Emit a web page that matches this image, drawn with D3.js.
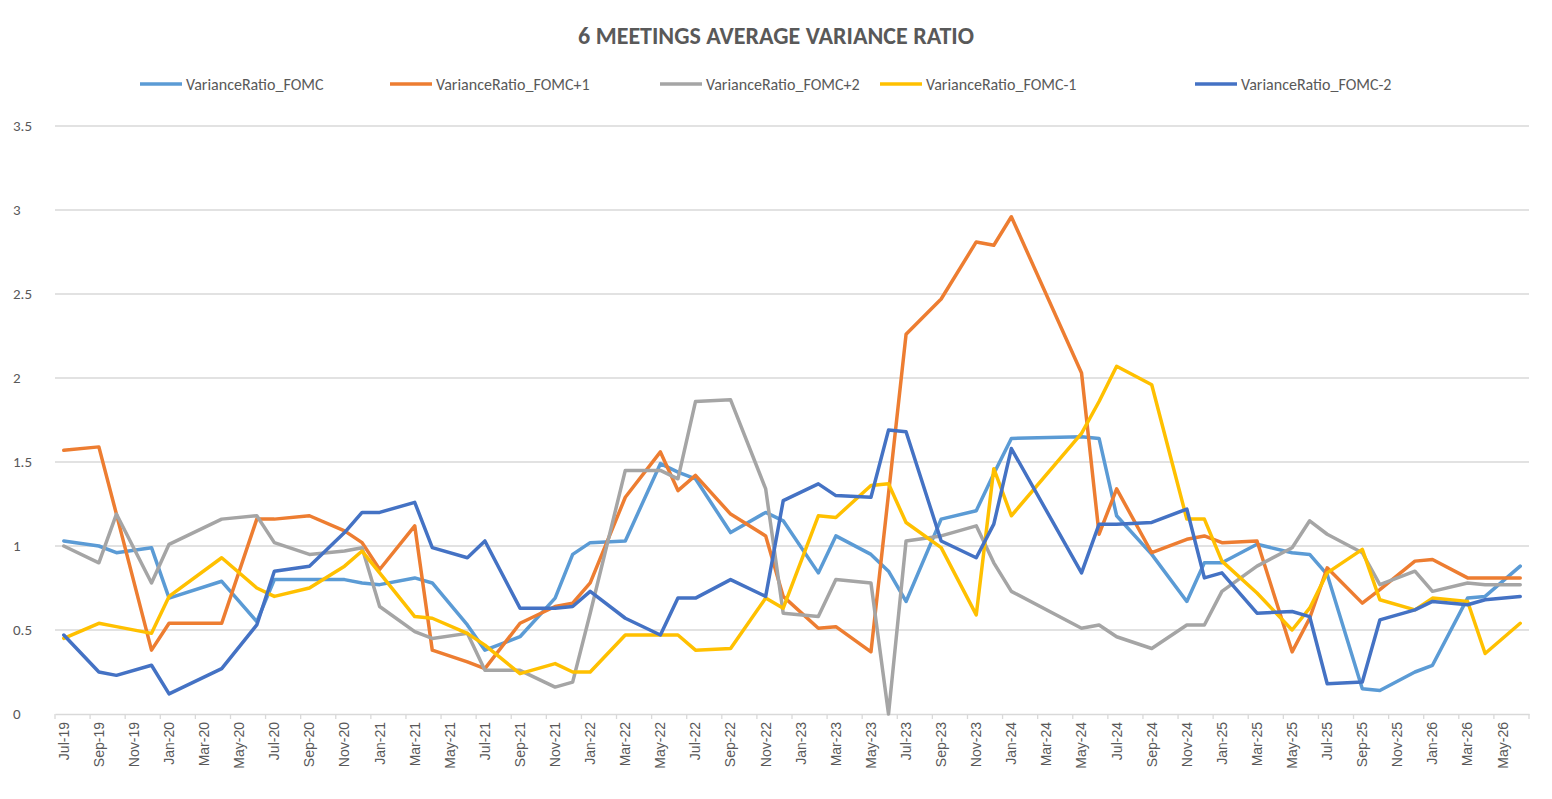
<!DOCTYPE html>
<html>
<head>
<meta charset="utf-8">
<script src="https://d3js.org/d3.v7.min.js"></script>
<style>
  body { margin: 0; background: #fff; font-family: Calibri, Carlito, "Open Sans", sans-serif; }
  .tick text { fill: #595959; font-size: 14px; }
</style>
</head>
<body>
<div id="chart"></div>
<script>
// meeting months (x positions)
var meetings = ["Jul-19","Sep-19","Oct-19","Dec-19","Jan-20","Apr-20","Jun-20","Jul-20","Sep-20","Nov-20","Dec-20",
  "Jan-21","Mar-21","Apr-21","Jun-21","Jul-21","Sep-21","Nov-21","Dec-21","Jan-22","Mar-22","May-22","Jun-22","Jul-22",
  "Sep-22","Nov-22","Dec-22","Feb-23","Mar-23","May-23","Jun-23","Jul-23","Sep-23","Nov-23","Dec-23","Jan-24","May-24",
  "Jun-24","Jul-24","Sep-24","Nov-24","Dec-24","Jan-25","Mar-25","May-25","Jun-25","Jul-25","Sep-25","Oct-25","Dec-25",
  "Jan-26","Mar-26","Apr-26","Jun-26"];

var fomc   = [1.03,1.00,0.96,0.99,0.69,0.79,0.55,0.80,0.80,0.80,0.78,0.77,0.81,0.78,0.53,0.38,0.46,0.69,0.95,1.02,1.03,1.49,1.44,1.40,
  1.08,1.20,1.15,0.84,1.06,0.95,0.85,0.67,1.16,1.21,1.43,1.64,1.65,1.64,1.18,0.95,0.67,0.90,0.90,1.01,0.96,0.95,0.83,0.15,0.14,0.25,
  0.29,0.69,0.70,0.88];
var fomcP1 = [1.57,1.59,1.19,0.38,0.54,0.54,1.16,1.16,1.18,1.09,1.02,0.86,1.12,0.38,0.31,0.27,0.54,0.64,0.66,0.78,1.29,1.56,1.33,1.42,
  1.19,1.06,0.70,0.51,0.52,0.37,1.31,2.26,2.47,2.81,2.79,2.96,2.03,1.07,1.34,0.96,1.04,1.06,1.02,1.03,0.37,0.57,0.87,0.66,0.74,0.91,
  0.92,0.81,0.81,0.81];
var fomcP2 = [1.00,0.90,1.19,0.78,1.01,1.16,1.18,1.02,0.95,0.97,0.99,0.64,0.49,0.45,0.48,0.26,0.26,0.16,0.19,0.60,1.45,1.45,1.40,1.86,
  1.87,1.34,0.60,0.58,0.80,0.78,0.00,1.03,1.06,1.12,0.90,0.73,0.51,0.53,0.46,0.39,0.53,0.53,0.73,0.88,0.99,1.15,1.07,0.96,0.77,0.85,
  0.73,0.78,0.77,0.77];
var fomcM1 = [0.45,0.54,0.52,0.48,0.70,0.93,0.75,0.70,0.75,0.88,0.97,0.84,0.58,0.57,0.48,0.41,0.24,0.30,0.25,0.25,0.47,0.47,0.47,0.38,
  0.39,0.69,0.63,1.18,1.17,1.36,1.37,1.14,0.99,0.59,1.46,1.18,1.67,1.86,2.07,1.96,1.16,1.16,0.91,0.72,0.50,0.63,0.84,0.98,0.68,0.62,
  0.69,0.67,0.36,0.54];
var fomcM2 = [0.47,0.25,0.23,0.29,0.12,0.27,0.53,0.85,0.88,1.08,1.20,1.20,1.26,0.99,0.93,1.03,0.63,0.63,0.64,0.73,0.57,0.47,0.69,0.69,
  0.80,0.70,1.27,1.37,1.30,1.29,1.69,1.68,1.03,0.93,1.13,1.58,0.84,1.13,1.13,1.14,1.22,0.81,0.84,0.60,0.61,0.58,0.18,0.19,0.56,0.62,
  0.67,0.65,0.68,0.70];

var seriesNames = ["VarianceRatio_FOMC","VarianceRatio_FOMC+1","VarianceRatio_FOMC+2","VarianceRatio_FOMC-1","VarianceRatio_FOMC-2"];
var seriesVals = [fomc, fomcP1, fomcP2, fomcM1, fomcM2];
var colors = ["#5B9BD5","#ED7D31","#A5A5A5","#FFC000","#4472C4"];
var yTicks = [0,0.5,1,1.5,2,2.5,3,3.5];

var W = 1552, H = 799;
var pLeft = 55, pRight = 1529, pTop = 126, pBottom = 714;

// month categories Jul-19 .. Jun-26
var fmt = d3.timeFormat("%b-%y");
var months = d3.timeMonths(new Date(2019, 6, 1), new Date(2026, 6, 1)).map(fmt);

var svg = d3.select("#chart").append("svg").attr("width", W).attr("height", H);

var x = d3.scaleBand().domain(months).range([pLeft, pRight]);
var y = d3.scaleLinear().domain([0, 3.5]).range([pBottom, pTop]);

svg.append("text").attr("x", W / 2).attr("y", 44).attr("text-anchor", "middle")
  .attr("font-size", 24).attr("font-weight", "bold").attr("fill", "#595959")
  .text("6 MEETINGS AVERAGE VARIANCE RATIO");

// gridlines + y labels
svg.selectAll("line.grid").data(yTicks.slice(1)).enter().append("line")
  .attr("x1", pLeft).attr("x2", pRight)
  .attr("y1", function(d) { return y(d); }).attr("y2", function(d) { return y(d); })
  .attr("stroke", "#d9d9d9").attr("stroke-width", 1.3);
svg.selectAll("text.ylab").data(yTicks).enter().append("text")
  .attr("x", 13).attr("y", function(d) { return y(d) + 5; })
  .attr("font-size", 15).attr("fill", "#595959")
  .text(function(d) { return d; });

// x axis
var xAxis = d3.axisBottom(x)
  .tickValues(months.filter(function(d, i) { return i % 2 === 0; }))
  .tickSize(0).tickPadding(6);
var gx = svg.append("g").attr("transform", "translate(0," + pBottom + ")").call(xAxis);
gx.select(".domain").attr("stroke", "#d9d9d9").attr("stroke-width", 1.3);
gx.selectAll(".tick text")
  .attr("transform", "rotate(-90)")
  .attr("text-anchor", "end").attr("x", -8).attr("y", 0).attr("dy", "0.35em");
// tick marks at month boundaries every 2 months
svg.selectAll("line.xt").data(months.filter(function(d, i) { return i % 2 === 0; }).concat(["end"])).enter()
  .append("line")
  .attr("x1", function(d) { return d === "end" ? pRight : x(d); })
  .attr("x2", function(d) { return d === "end" ? pRight : x(d); })
  .attr("y1", pBottom).attr("y2", pBottom + 5)
  .attr("stroke", "#d9d9d9").attr("stroke-width", 1.3);

// lines
var line = d3.line()
  .x(function(d) { return x(d[0]) + x.bandwidth() / 2; })
  .y(function(d) { return y(d[1]); });
seriesVals.forEach(function(vals, k) {
  svg.append("path")
    .datum(meetings.map(function(m, i) { return [m, vals[i]]; }))
    .attr("d", line).attr("fill", "none")
    .attr("stroke", colors[k]).attr("stroke-width", 3.5)
    .attr("stroke-linejoin", "round").attr("stroke-linecap", "round");
});

// legend
var legX = [140, 390, 660, 880, 1195];
var leg = svg.selectAll("g.leg").data(seriesNames).enter().append("g")
  .attr("transform", function(d, i) { return "translate(" + legX[i] + ",84)"; });
leg.append("line").attr("x1", 0).attr("x2", 42).attr("y1", 0).attr("y2", 0)
  .attr("stroke", function(d, i) { return colors[i]; }).attr("stroke-width", 3.5);
leg.append("text").attr("x", 46).attr("y", 6).attr("font-size", 16).attr("fill", "#595959")
  .text(function(d) { return d; });
</script>
</body>
</html>
